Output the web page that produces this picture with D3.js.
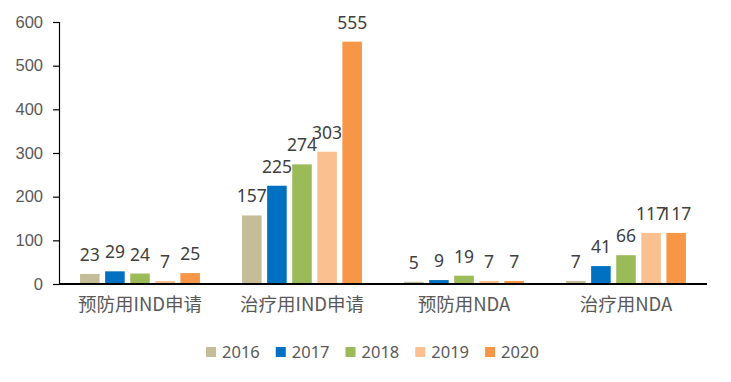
<!DOCTYPE html>
<html>
<head>
<meta charset="utf-8">
<style>
  body { margin: 0; background: #fff; }
  svg { display: block; }
</style>
</head>
<body>
<svg width="731" height="382" font-family="'Noto Sans', 'Noto Sans CJK SC', sans-serif"></svg>

<script src="https://cdn.jsdelivr.net/npm/d3@7"></script>

<script>

var categories = ["预防用IND申请", "治疗用IND申请", "预防用NDA", "治疗用NDA"];
var years = ["2016", "2017", "2018", "2019", "2020"];
var colors = ["#C4BD97", "#0070C0", "#9BBB59", "#FAC090", "#F79646"];

// one array per year, in category order
var v2016 = [23, 157, 5, 7];
var v2017 = [29, 225, 9, 41];
var v2018 = [24, 274, 19, 66];
var v2019 = [7, 303, 7, 117];
var v2020 = [25, 555, 7, 117];
var series = [v2016, v2017, v2018, v2019, v2020];

var yTicks = [0, 100, 200, 300, 400, 500, 600];

var svg = d3.select("svg"),
    plotLeft = 59, plotRight = 707, plotTop = 22, plotBottom = 284;

var x0 = d3.scaleBand()
    .domain(categories)
    .range([plotLeft, plotRight])
    .paddingInner(0.26)
    .paddingOuter(0.13);

var x1 = d3.scaleBand()
    .domain(years)
    .range([0, x0.bandwidth()])
    .paddingInner(0.22);

var y = d3.scaleLinear()
    .domain([0, 600])
    .range([plotBottom, plotTop]);

var color = d3.scaleOrdinal().domain(years).range(colors);

// y axis
var yAxis = svg.append("g")
    .attr("transform", "translate(" + plotLeft + ",0)")
    .call(d3.axisLeft(y).tickValues(yTicks).tickSize(6).tickPadding(10));
yAxis.select(".domain").attr("stroke", "#000").attr("stroke-width", 1.2);
yAxis.selectAll(".tick line").attr("stroke", "#000").attr("stroke-width", 1.2);
yAxis.selectAll(".tick text")
    .attr("fill", "#595959")
    .attr("font-size", 16.5);

// bars
var rows = [];
categories.forEach(function(c, i) {
  years.forEach(function(yr, j) {
    rows.push({ cat: c, year: yr, value: series[j][i] });
  });
});

var group = svg.append("g");

group.selectAll("rect")
  .data(rows)
  .enter().append("rect")
    .attr("x", function(d) { return x0(d.cat) + x1(d.year); })
    .attr("y", function(d) { return y(d.value); })
    .attr("width", x1.bandwidth())
    .attr("height", function(d) { return y(0) - y(d.value); })
    .attr("fill", function(d) { return color(d.year); });

group.selectAll("text")
  .data(rows)
  .enter().append("text")
    .attr("x", function(d) { return x0(d.cat) + x1(d.year) + x1.bandwidth() / 2; })
    .attr("y", function(d) { return y(d.value) - 13; })
    .attr("text-anchor", "middle")
    .attr("fill", "#404040")
    .attr("font-size", 17.5)
    .text(function(d) { return d.value; });

// x axis
var xAxis = svg.append("g")
    .attr("transform", "translate(0," + plotBottom + ")")
    .call(d3.axisBottom(x0).tickSize(0).tickPadding(14).tickSizeOuter(0));
xAxis.select(".domain")
    .attr("stroke", "#000")
    .attr("stroke-width", 2)
    .attr("d", "M" + plotLeft + ",0H" + plotRight);
xAxis.selectAll(".tick text")
    .attr("fill", "#595959")
    .attr("font-size", 18.5)
    .attr("font-family", "'Noto Sans CJK SC', sans-serif");

// legend
var legend = svg.append("g").attr("transform", "translate(206,352)");
var lx = 0;
years.forEach(function(yr) {
  var item = legend.append("g").attr("transform", "translate(" + lx + ",0)");
  item.append("rect")
      .attr("x", 0).attr("y", -5)
      .attr("width", 10).attr("height", 10)
      .attr("fill", color(yr));
  var t = item.append("text")
      .attr("x", 16).attr("y", 6)
      .attr("fill", "#595959")
      .attr("font-size", 16.5)
      .text(yr);
  lx += 16 + t.node().getComputedTextLength() + 16;
});

</script>
</body>
</html>
